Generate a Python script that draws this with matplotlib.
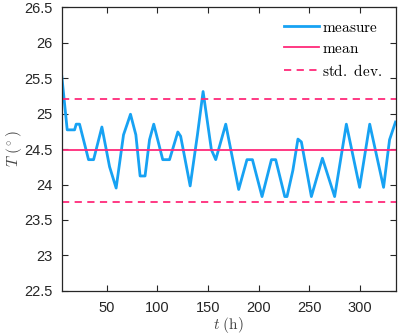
import numpy as np
import matplotlib
matplotlib.use("Agg")
import matplotlib.pyplot as plt

plt.rcParams["mathtext.fontset"] = "cm"
plt.rcParams["font.family"] = ["Liberation Sans", "DejaVu Sans"]

# valores
t_horas = [5.5, 10.8, 18.1, 19.7, 23.0, 31.9, 36.9, 45.1, 52.7, 59.2,
           66.5, 70.1, 73.4, 78.7, 82.9, 87.8, 92.2, 96.4, 105.3, 112.0,
           120.2, 123.0, 132.4, 139.6, 145.2, 153.4, 157.7, 167.6, 180.4, 188.6,
           194.0, 203.5, 212.8, 217.0, 226.0, 228.2, 234.0, 239.0, 242.4, 252.3,
           263.2, 275.3, 286.9, 300.0, 310.0, 323.7, 329.6, 335.5]
temperatura = [25.52, 24.77, 24.77, 24.85, 24.85, 24.35, 24.35, 24.81, 24.25, 23.95,
               24.70, 24.85, 24.99, 24.70, 24.12, 24.12, 24.63, 24.85, 24.35, 24.35,
               24.74, 24.68, 23.98, 24.70, 25.31, 24.49, 24.35, 24.85, 23.93, 24.35,
               24.35, 23.83, 24.35, 24.35, 23.83, 23.83, 24.20, 24.64, 24.60, 23.83,
               24.37, 23.83, 24.85, 23.96, 24.85, 23.96, 24.63, 24.88]
media = 24.48
desvio = 0.72

y_ticks = [22.5, 23, 23.5, 24, 24.5, 25, 25.5, 26, 26.5]
x_ticks = [50, 100, 150, 200, 250, 300]

AZUL = "#17A2F3"
ROSA = "#FF2A7A"
CINZA = "#262626"

fig = plt.figure(figsize=(3.99, 3.36), dpi=100)
ax = fig.add_axes([0.155, 0.134, 0.8375, 0.845])

ax.plot(t_horas, temperatura, color=AZUL, lw=2.0, label=r"$\mathrm{measure}$")
ax.axhline(media, color=ROSA, lw=1.3, label=r"$\mathrm{mean}$")
ax.axhline(media + desvio, color=ROSA, lw=1.3, ls=(0, (4, 3)),
           label=r"$\mathrm{std.\ dev.}$")
ax.axhline(media - desvio, color=ROSA, lw=1.3, ls=(0, (4, 3)))

ax.set_xlim(t_horas[0], 336)
ax.set_ylim(22.5, 26.5)
ax.set_xticks(x_ticks)
ax.set_yticks(y_ticks)
ax.set_yticklabels([f"{v:g}" for v in y_ticks])
ax.tick_params(direction="in", top=True, right=True, length=4, width=0.8,
               colors=CINZA, labelsize=10.5)
ax.tick_params(axis="y", pad=6.5)
ax.tick_params(axis="x", pad=7)
for s in ax.spines.values():
    s.set_color(CINZA)
    s.set_linewidth(0.9)

ax.set_xlabel(r"$t\ \mathrm{(h)}$", fontsize=11, color="#444444", labelpad=0)
ax.set_ylabel(r"$T\ (^\circ)$", fontsize=11, color="#444444", labelpad=0)

leg = ax.legend(loc="upper right", frameon=False, fontsize=11,
                handlelength=2.3, handletextpad=0.2, labelspacing=0.45,
                borderaxespad=0.5)

fig.savefig("out.png", dpi=100)
